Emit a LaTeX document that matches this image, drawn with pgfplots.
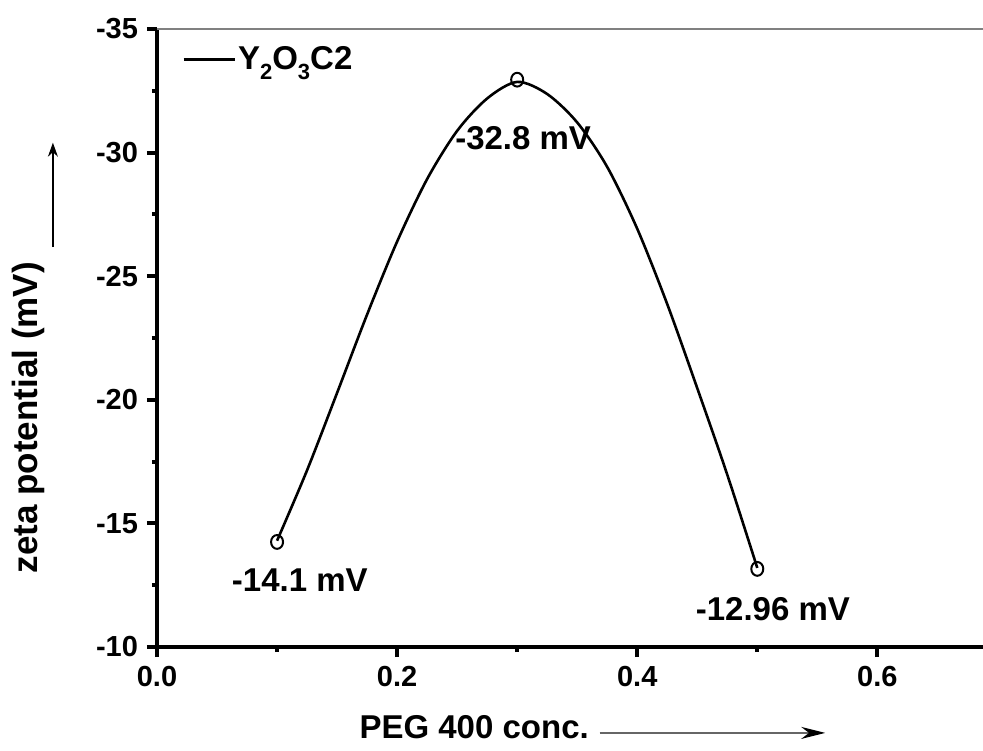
\documentclass[border=0pt]{standalone}
\usepackage{fontspec}
\setmainfont{Liberation Sans}
\usepackage{pgfplots}
\pgfplotsset{compat=1.18}
\usetikzlibrary{arrows.meta}
\newcommand{\sub}[1]{\raisebox{-5pt}{\fontsize{11}{12}\selectfont #1}}
\begin{document}
\begin{tikzpicture}
\begin{axis}[
  scale only axis, width=413pt, height=309pt,
  xmin=0, xmax=0.688, ymin=-35, ymax=-10, y dir=reverse,
  axis x line=bottom, axis y line=left,
  axis line style={-, black, line width=2pt},
  tick style={black, line width=2pt},
  major tick length=5pt, minor tick length=2.5pt,
  tick align=outside,
  xtick={0,0.2,0.4,0.6}, xticklabels={0.0,0.2,0.4,0.6},
  ytick={-35,-30,-25,-20,-15,-10}, yticklabels={-35,-30,-25,-20,-15,-10},
  minor x tick num=1, minor y tick num=1,
  tick label style={font=\fontsize{14.5}{16}\selectfont\bfseries},
  xticklabel style={yshift=-1pt},
  yticklabel style={xshift=-1pt},
  clip=false,
  legend style={draw=none, fill=none, at={(axis description cs:0.0303,0.951)}, anchor=west,
    font=\fontsize{16.5}{19}\selectfont\bfseries, inner sep=0pt,
    nodes={inner sep=1pt}},
  legend image code/.code={\draw[black, line width=1.3pt] (0pt,0pt) -- (25.5pt,0pt);},
]
\addplot[black, line width=1.3pt, smooth] coordinates {
(0.100,-14.30) (0.125,-17.15) (0.150,-20.28) (0.175,-23.45) (0.200,-26.40)
(0.225,-28.93) (0.250,-30.88) (0.275,-32.19) (0.300,-32.86) (0.325,-32.37)
(0.350,-31.22) (0.375,-29.42) (0.400,-26.92) (0.425,-23.87) (0.450,-20.47)
(0.475,-16.97) (0.500,-13.20)};
\addlegendentry{Y\sub{2}O\sub{3}C2}
\addplot[only marks, black, mark=o, mark size=3pt, mark options={line width=1pt, yscale=1.15}, forget plot]
  coordinates {(0.1,-14.25) (0.3,-32.95) (0.5,-13.16)};
\draw[gray, line width=0.7pt] (axis description cs:0,1) -- (axis description cs:1,1);
\coordinate (sw) at (axis description cs:0,0);
\coordinate (ne) at (axis description cs:1,1);
\node[font=\fontsize{16.5}{19}\selectfont\bfseries] at (axis cs:0.119,-12.7) {-14.1 mV};
\node[font=\fontsize{16.5}{19}\selectfont\bfseries] at (axis cs:0.305,-30.59) {-32.8 mV};
\node[font=\fontsize{16.5}{19}\selectfont\bfseries] at (axis cs:0.513,-11.54) {-12.96 mV};
\node[rotate=90, font=\fontsize{17.5}{20}\selectfont\bfseries] at (axis description cs:-0.156,0.371) {zeta potential (mV)};
\node[font=\fontsize{16.5}{19}\selectfont\bfseries] at (axis description cs:0.384,-0.129) {PEG 400 conc.};
\draw[-{Stealth[length=7pt,width=5pt]}, line width=0.6pt] (axis description cs:-0.126,0.647) -- (axis description cs:-0.126,0.816);
\draw[gray!80!black, line width=1pt, -{Stealth[length=12pt,width=6pt,black]}] (axis description cs:0.536,-0.139) -- (axis description cs:0.809,-0.139);
\end{axis}
\pgfresetboundingbox
\path[use as bounding box] ([xshift=-78.5pt,yshift=-52pt]sw) rectangle ([yshift=14.5pt]ne);
\end{tikzpicture}
\end{document}
